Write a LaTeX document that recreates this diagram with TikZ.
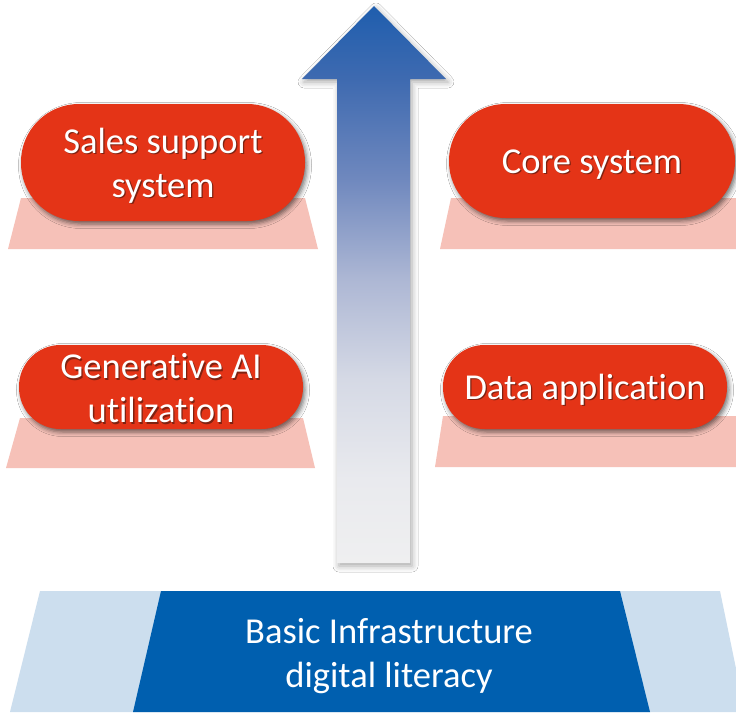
\documentclass[tikz,border=0pt]{standalone}
\usepackage{fontspec}
\setmainfont{Carlito}[Ligatures=NoCommon]
\usetikzlibrary{shadows.blur}
\definecolor{pillred}{HTML}{E43417}
\definecolor{pillpink}{HTML}{F6C1B8}
\definecolor{baselight}{HTML}{CCDEEE}
\definecolor{basedark}{HTML}{005FAF}
\definecolor{txtshadow}{HTML}{7F2211}
\definecolor{ash0}{HTML}{EFEFF0}
\definecolor{ash1}{HTML}{E9EAEE}
\definecolor{ash2}{HTML}{D5D9E5}
\definecolor{ash3}{HTML}{ADB7D4}
\definecolor{ash4}{HTML}{6F88BE}
\definecolor{ash5}{HTML}{3E6AB0}
\definecolor{ash6}{HTML}{1F5EAE}
\pgfdeclareverticalshading{arrowshade}{100bp}{color(0bp)=(ash0); color(25bp)=(ash0); color(32.5bp)=(ash1); color(41.5bp)=(ash2); color(50.5bp)=(ash3); color(59.5bp)=(ash4); color(68.5bp)=(ash5); color(75bp)=(ash6); color(100bp)=(ash6)}
\newcommand\shtxt[2][0pt]{\leavevmode\raisebox{-#1}[\height][\depth]{\rlap{\kern1.3pt\raisebox{-1.3pt}{\textcolor{txtshadow}{#2}}}#2}}
\begin{document}
\begin{tikzpicture}[x=1pt,y=-1pt,
  bigfont/.style={font=\fontsize{36.5}{44}\selectfont},
  pill/.style={fill=pillred, rounded corners=#1, text=white, align=center,
    bigfont, inner sep=0pt,
    blur shadow={shadow xshift=2pt, shadow yshift=-3pt, shadow blur radius=4.5pt, shadow opacity=55}},
  plinth/.style={fill=pillpink},
  arrowstyle/.style={shading=arrowshade,
    blur shadow={shadow xshift=2pt, shadow yshift=-3pt, shadow blur radius=6pt, shadow opacity=35}},
  basetext/.style={text=white, align=center, bigfont}
]
\useasboundingbox (0,0) rectangle (736,712);
\fill[white] (0,0) rectangle (736,712);
\clip (0,0) rectangle (736,712);

% base
\fill[baselight] (40,591) -- (720,591) -- (745,712) -- (10,712) -- cycle;
\fill[basedark] (161,591) -- (620,591) -- (650,712) -- (133,712) -- cycle;
\node[basetext] (base) at (389,656) {Basic Infrastructure\\digital literacy};

% arrow
\path[arrowstyle] (374,6) -- (446,79) -- (410,79) -- (410,563) -- (337,563) -- (337,79) -- (302,79) -- cycle;

% plinths
\fill[plinth] (21,198) -- (305,198) -- (318,249) -- (8,249) -- cycle;
\fill[plinth] (451,198) -- (745,198) -- (745,249) -- (440,249) -- cycle;
\fill[plinth] (20,418) -- (303,418) -- (315,468) -- (6,468) -- cycle;
\fill[plinth] (443,416) -- (745,416) -- (745,467) -- (435,467) -- cycle;

% pills
\node[pill=58pt, minimum width=284pt, minimum height=117pt] (sales) at (163,162.5)
  {\shtxt[4pt]{Sales support}\\\shtxt[4pt]{system}};
\node[pill=56.5pt, minimum width=286pt, minimum height=114pt] (core) at (592,161)
  {\shtxt[4pt]{Core system}};
\node[pill=41.5pt, minimum width=284pt, minimum height=84pt] (genai) at (161,387)
  {\shtxt[2pt]{Generative AI}\\\shtxt[2pt]{utilization}};
\node[pill=41.5pt, minimum width=284pt, minimum height=84pt] (data) at (585,387)
  {\shtxt[3pt]{Data application}};
\end{tikzpicture}
\end{document}
